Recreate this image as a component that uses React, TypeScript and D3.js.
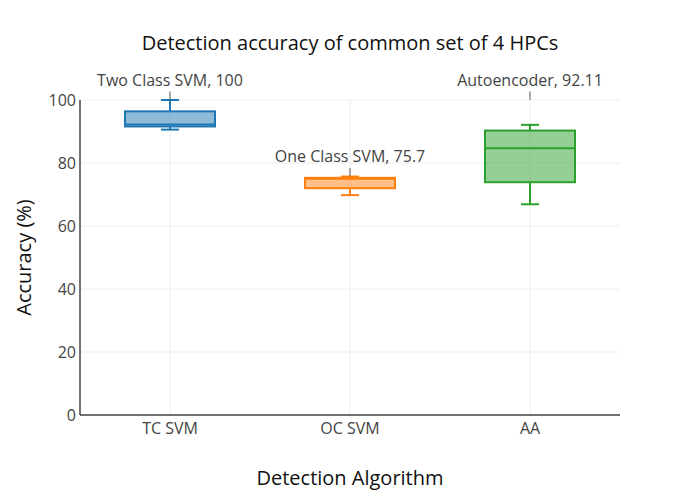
import React from "react";
import * as d3 from "d3";

// box stats
const categories = ["TC SVM", "OC SVM", "AA"];
const lowerWhisker = [90.6, 69.8, 66.9];
const q1 = [91.6, 72.0, 73.9];
const median = [92.2, 75.0, 84.7];
const q3 = [96.4, 75.3, 90.3];
const upperWhisker = [100, 75.7, 92.11];
const colors = ["#1f77b4", "#ff7f0e", "#2ca02c"];

const noteText = ["Two Class SVM, 100", "One Class SVM, 75.7", "Autoencoder, 92.11"];
const noteY = [100, 75.7, 100];

const yTicks = [0, 20, 40, 60, 80, 100];

const FONT = "'Open Sans', 'Noto Sans', sans-serif";

const App = () => {
    const width = 700;
    const height = 500;
    const margin = { top: 100, right: 80, bottom: 85, left: 80 };
    const innerW = width - margin.left - margin.right;
    const innerH = height - margin.top - margin.bottom;

    const x = d3.scaleBand().domain(categories).range([0, innerW]);
    const y = d3.scaleLinear().domain([0, 100]).range([innerH, 0]);

    const boxW = x.bandwidth() * 0.5;
    const capW = boxW * 0.2;

    return (
        <svg
            width={width}
            height={height}
            style={{ position: "absolute", left: 0, top: 0, background: "#fff" }}
            fontFamily={FONT}
        >
            <text x={width / 2} y={50} textAnchor="middle" fontSize={20} fill="#111">
                Detection accuracy of common set of 4 HPCs
            </text>
            <g transform={`translate(${margin.left},${margin.top})`}>
                {/* grid */}
                {yTicks.map((t) => (
                    <line key={"gy" + t} x1={0} x2={innerW} y1={y(t)} y2={y(t)} stroke="#eee" strokeWidth={1} />
                ))}
                {categories.map((c) => {
                    const cx = x(c)! + x.bandwidth() / 2;
                    return <line key={"gx" + c} x1={cx} x2={cx} y1={0} y2={innerH} stroke="#eee" strokeWidth={1} />;
                })}

                {/* boxes */}
                {categories.map((c, i) => {
                    const cx = x(c)! + x.bandwidth() / 2;
                    const col = colors[i];
                    return (
                        <g key={"box" + c}>
                            <line x1={cx} x2={cx} y1={y(upperWhisker[i])} y2={y(q3[i])} stroke={col} strokeWidth={2} />
                            <line x1={cx} x2={cx} y1={y(q1[i])} y2={y(lowerWhisker[i])} stroke={col} strokeWidth={2} />
                            <line x1={cx - capW / 2} x2={cx + capW / 2} y1={y(upperWhisker[i])} y2={y(upperWhisker[i])} stroke={col} strokeWidth={2} />
                            <line x1={cx - capW / 2} x2={cx + capW / 2} y1={y(lowerWhisker[i])} y2={y(lowerWhisker[i])} stroke={col} strokeWidth={2} />
                            <rect
                                x={cx - boxW / 2}
                                y={y(q3[i])}
                                width={boxW}
                                height={y(q1[i]) - y(q3[i])}
                                fill={col}
                                fillOpacity={0.5}
                                stroke={col}
                                strokeWidth={2}
                            />
                            <line x1={cx - boxW / 2} x2={cx + boxW / 2} y1={y(median[i])} y2={y(median[i])} stroke={col} strokeWidth={2} />
                        </g>
                    );
                })}

                {/* axes */}
                <line x1={0} x2={0} y1={0} y2={innerH} stroke="#444" strokeWidth={1.5} />
                <line x1={0} x2={innerW} y1={innerH} y2={innerH} stroke="#444" strokeWidth={1.5} />
                {yTicks.map((t) => (
                    <text key={"ty" + t} x={-4} y={y(t)} dy="0.35em" textAnchor="end" fontSize={16} fill="#444">
                        {t}
                    </text>
                ))}
                {categories.map((c) => (
                    <text key={"tx" + c} x={x(c)! + x.bandwidth() / 2} y={innerH + 19} textAnchor="middle" fontSize={16} fill="#444">
                        {c}
                    </text>
                ))}

                {/* annotations */}
                {categories.map((c, i) => {
                    const cx = x(c)! + x.bandwidth() / 2;
                    const py = y(noteY[i]);
                    return (
                        <g key={"note" + c}>
                            <line x1={cx} x2={cx} y1={py} y2={py - 8.5} stroke="#444" strokeOpacity={0.6} strokeWidth={1.5} />
                            <text x={cx} y={py - 20} dy="0.35em" textAnchor="middle" fontSize={16} fill="#444">
                                {noteText[i]}
                            </text>
                        </g>
                    );
                })}
            </g>
            <text
                transform={`translate(24,${margin.top + innerH / 2}) rotate(-90)`}
                textAnchor="middle"
                dy="0.35em"
                fontSize={20}
                fill="#111"
            >
                Accuracy (%)
            </text>
            <text x={margin.left + innerW / 2} y={485} textAnchor="middle" fontSize={20} fill="#111">
                Detection Algorithm
            </text>
        </svg>
    );
};

export default App;
